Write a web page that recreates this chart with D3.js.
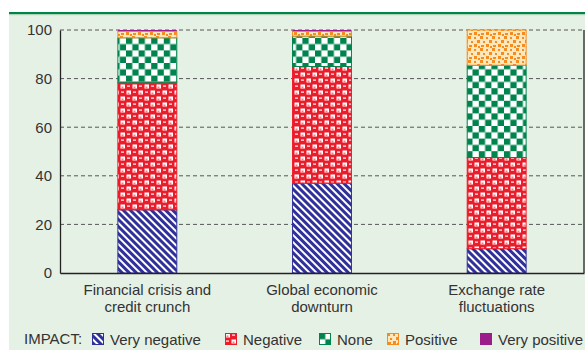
<!DOCTYPE html>
<html>
<head>
<meta charset="utf-8">
<script src="https://cdn.jsdelivr.net/npm/d3@7"></script>
<style>
  html, body { margin: 0; padding: 0; background: #ffffff; }
  svg { display: block; font-family: "Liberation Sans", Arial, sans-serif; }
</style>
</head>
<body>
<svg id="chart" width="585" height="350"></svg>
<script>
// Survey: share of respondents by perceived impact (%)
const categories = [
  ["Financial crisis and", "credit crunch"],
  ["Global economic", "downturn"],
  ["Exchange rate", "fluctuations"]
];
const impactLevels = ["Very negative", "Negative", "None", "Positive", "Very positive"];
const veryNegative = [26, 37, 10];
const negative     = [52.5, 48, 37.5];
const none         = [18.3, 12.5, 38];
const positive     = [2.7, 2, 14.5];
const veryPositive = [0.5, 0.5, 0];
const yTicks = [0, 20, 40, 60, 80, 100];

const seriesValues = [veryNegative, negative, none, positive, veryPositive];
const rows = categories.map((c, i) => {
  const r = { key: i };
  impactLevels.forEach((lvl, j) => { r[lvl] = seriesValues[j][i]; });
  return r;
});

const svg = d3.select("#chart");
const W = 585, H = 350;
const margin = { left: 60, right: 1, top: 30, bottom: 77 };
const FS = 15;

// panel background and top rule
svg.append("rect").attr("x", 9).attr("y", 13).attr("width", W - 9).attr("height", H - 13).attr("fill", "#e6f1e5");
svg.append("rect").attr("x", 9).attr("y", 12).attr("width", W - 9).attr("height", 2.2).attr("fill", "#00844a");
svg.append("rect").attr("x", 9).attr("y", 14.2).attr("width", W - 9).attr("height", 1).attr("fill", "#a9d3b6");

// patterns
const defs = svg.append("defs");

// very negative: diagonal blue hatching
const pVN = defs.append("pattern").attr("id", "pVN").attr("patternUnits", "userSpaceOnUse")
  .attr("width", 5).attr("height", 5).attr("patternTransform", "rotate(45)");
pVN.append("rect").attr("width", 5).attr("height", 5).attr("fill", "#ffffff");
pVN.append("rect").attr("width", 5).attr("height", 3).attr("fill", "#30309a");

// negative: red with white blocks
const pN = defs.append("pattern").attr("id", "pN").attr("patternUnits", "userSpaceOnUse")
  .attr("width", 12).attr("height", 12);
pN.append("rect").attr("width", 12).attr("height", 12).attr("fill", "#ed1c2b");
pN.append("rect").attr("x", 0.5).attr("y", 0.5).attr("width", 4.5).attr("height", 4).attr("fill", "#ffffff");
pN.append("rect").attr("x", 6.5).attr("y", 6.5).attr("width", 4.5).attr("height", 4).attr("fill", "#ffffff");
pN.append("rect").attr("x", 7).attr("y", 1.5).attr("width", 3).attr("height", 1.2).attr("fill", "#ffffff");
pN.append("rect").attr("x", 1).attr("y", 7.5).attr("width", 3).attr("height", 1.2).attr("fill", "#ffffff");
pN.append("rect").attr("x", 1.5).attr("y", 2.5).attr("width", 2).attr("height", 2).attr("fill", "#f47d84");
pN.append("rect").attr("x", 7.5).attr("y", 8.5).attr("width", 2).attr("height", 2).attr("fill", "#f47d84");

// none: green checkerboard
const pNo = defs.append("pattern").attr("id", "pNo").attr("patternUnits", "userSpaceOnUse")
  .attr("width", 12.6).attr("height", 12.6);
pNo.append("rect").attr("width", 12.6).attr("height", 12.6).attr("fill", "#ffffff");
pNo.append("rect").attr("x", 0).attr("y", 0).attr("width", 6.3).attr("height", 6.3).attr("fill", "#00844e");
pNo.append("rect").attr("x", 6.3).attr("y", 6.3).attr("width", 6.3).attr("height", 6.3).attr("fill", "#00844e");

// positive: orange speckle on pale yellow
const pP = defs.append("pattern").attr("id", "pP").attr("patternUnits", "userSpaceOnUse")
  .attr("width", 12).attr("height", 12);
pP.append("rect").attr("width", 12).attr("height", 12).attr("fill", "#fde8bd");
[[0,0,3,3],[6,1,2,2],[9,4,3,3],[3,5,2,2],[1,9,3,2],[6,8,3,3],[10,10,2,2]].forEach(d => {
  pP.append("rect").attr("x", d[0]).attr("y", d[1]).attr("width", d[2]).attr("height", d[3]).attr("fill", "#f68b1f");
});

const fills = {
  "Very negative": "url(#pVN)",
  "Negative": "url(#pN)",
  "None": "url(#pNo)",
  "Positive": "url(#pP)",
  "Very positive": "#9b1d8a"
};
const strokes = {
  "Very negative": "#30309a",
  "Negative": "#ed1c2b",
  "None": "#00844e",
  "Positive": "#f68b1f",
  "Very positive": "#9b1d8a"
};

const x = d3.scaleBand().domain(d3.range(categories.length))
  .range([margin.left, W - margin.right]).paddingInner(0.657).paddingOuter(0.3285);
const y = d3.scaleLinear().domain([0, 100]).range([H - margin.bottom, margin.top]);

// dashed gridlines
svg.append("g").selectAll("line").data(yTicks.filter(t => t > 0)).join("line")
  .attr("x1", margin.left).attr("x2", W - margin.right)
  .attr("y1", d => y(d)).attr("y2", d => y(d))
  .attr("stroke", "#555").attr("stroke-width", 1).attr("stroke-dasharray", "4,3");

// stacked bars
const stack = d3.stack().keys(impactLevels)(rows);
svg.append("g").selectAll("g").data(stack).join("g")
  .attr("fill", d => fills[d.key])
  .attr("stroke", d => strokes[d.key])
  .selectAll("rect").data(d => d).join("rect")
  .attr("x", (d, i) => x(i) + 0.5)
  .attr("width", x.bandwidth() - 1)
  .attr("y", d => y(d[1]))
  .attr("height", d => Math.max(0, y(d[0]) - y(d[1])))
  .attr("stroke-width", d => (y(d[0]) - y(d[1])) > 1.5 ? 1 : 0);

// y axis
const yAxis = svg.append("g").attr("transform", `translate(${margin.left},0)`)
  .call(d3.axisLeft(y).tickValues(yTicks).tickSize(0).tickPadding(8));
yAxis.select(".domain").attr("stroke", "#222").attr("stroke-width", 1.3);
yAxis.selectAll("text").attr("font-size", FS).attr("fill", "#333")
  .attr("font-family", "'Liberation Sans', Arial, sans-serif");

// right frame line
svg.append("line").attr("x1", W - margin.right).attr("x2", W - margin.right)
  .attr("y1", y(100)).attr("y2", y(0)).attr("stroke", "#222").attr("stroke-width", 1.3);

// x axis
const xAxis = svg.append("g").attr("transform", `translate(0,${y(0)})`)
  .call(d3.axisBottom(x).tickSize(0).tickFormat(""));
xAxis.select(".domain").attr("stroke", "#222").attr("stroke-width", 1.3);
xAxis.selectAll(".tick").each(function(d) {
  const t = d3.select(this).append("text").attr("fill", "#333").attr("font-size", FS)
    .attr("text-anchor", "middle").attr("y", 22);
  categories[d].forEach((line, k) => {
    t.append("tspan").attr("x", 0).attr("dy", k === 0 ? 0 : 17).text(line);
  });
});

// legend
const legend = svg.append("g").attr("font-size", FS).attr("fill", "#333");
legend.append("text").attr("x", 24).attr("y", 344).text("IMPACT:");
const legendX = [92, 225, 319, 387, 480];
impactLevels.forEach((lvl, i) => {
  const g = legend.append("g").attr("transform", `translate(${legendX[i]},333)`);
  g.append("rect").attr("x", 0.5).attr("y", 0.5).attr("width", 11).attr("height", 11)
    .attr("fill", fills[lvl]).attr("stroke", strokes[lvl]);
  g.append("text").attr("x", 18).attr("y", 11.5).text(lvl);
});
</script>
</body>
</html>
